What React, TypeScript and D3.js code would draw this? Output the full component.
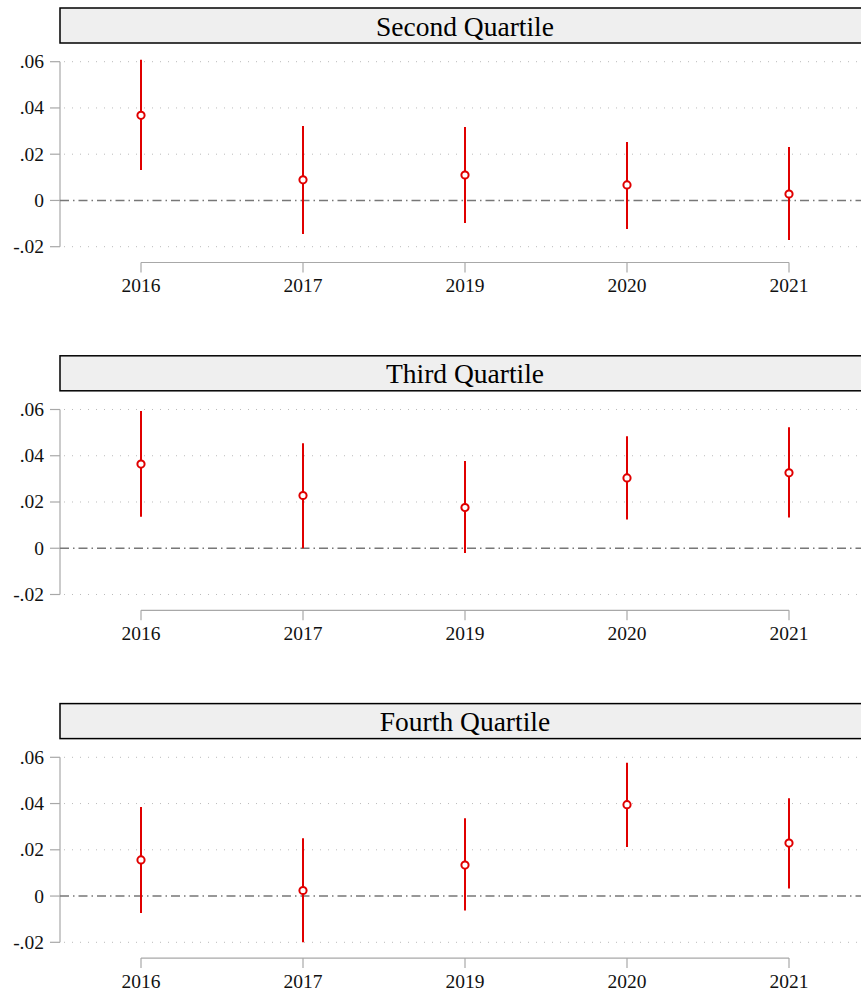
import React from 'react'
import * as d3 from 'd3'

const years = ['2016', '2017', '2019', '2020', '2021']
const panels = ['Second Quartile', 'Third Quartile', 'Fourth Quartile']

// point estimates and 95% CI bounds, one array per panel
const est = [
  [0.0368, 0.0089, 0.011, 0.0067, 0.0028],
  [0.0364, 0.0228, 0.0176, 0.0304, 0.0326],
  [0.0156, 0.0024, 0.0134, 0.0395, 0.0229],
]
const lower = [
  [0.0132, -0.0145, -0.0097, -0.0123, -0.0171],
  [0.0136, 0.0, -0.0021, 0.0124, 0.0133],
  [-0.0073, -0.02, -0.0063, 0.0212, 0.0033],
]
const upper = [
  [0.0608, 0.0322, 0.0318, 0.0253, 0.0231],
  [0.0593, 0.0454, 0.0377, 0.0484, 0.0523],
  [0.0385, 0.025, 0.0336, 0.0576, 0.0423],
]
const yTicks = [-0.02, 0, 0.02, 0.04, 0.06]

const W = 861
const H = 996
const left = 60
const right = 870
const panelStep = 347.8
const font = '"Liberation Serif", "Times New Roman", serif'
const axisColor = '#a8a8a8'
const red = '#e00000'

const fmt = (v: number) => {
  if (v === 0) return '0'
  const s = v.toFixed(2)
  return s.replace('0.', '.')
}

function Panel({ idx }: { idx: number }) {
  const x = d3.scaleBand<string>().domain(years).range([left, right]).padding(0)
  const cx = (d: string) => (x(d) as number) + x.bandwidth() / 2
  const y = d3.scaleLinear().domain([-0.02, 0.06]).range([246.7, 61.7])
  const xAxisY = 262.5
  return (
    <g transform={`translate(0,${idx * panelStep})`}>
      <rect x={left} y={8} width={right - left} height={35} fill="#efefef" stroke="#000" strokeWidth={1.5} />
      <text x={(left + right) / 2} y={35.5} textAnchor="middle" fontFamily={font} fontSize={27.5} fill="#000">
        {panels[idx]}
      </text>
      {yTicks.map((t) => (
        <g key={t}>
          {t !== 0 && (
            <line x1={left + 4} x2={W} y1={y(t)} y2={y(t)} stroke="#bbb" strokeWidth={1} strokeDasharray="1 7" />
          )}
          <line x1={left - 10} x2={left} y1={y(t)} y2={y(t)} stroke={axisColor} strokeWidth={1.2} />
          <text x={left - 16} y={y(t) + 6.5} textAnchor="end" fontFamily={font} fontSize={19.5} fill="#111">
            {fmt(t)}
          </text>
        </g>
      ))}
      <line x1={left} x2={left} y1={y(0.06)} y2={y(-0.02)} stroke={axisColor} strokeWidth={1.2} />
      <line x1={left} x2={W} y1={y(0)} y2={y(0)} stroke="#777" strokeWidth={1.5} strokeDasharray="9 4 1.5 4" />
      <line x1={cx(years[0])} x2={cx(years[years.length - 1])} y1={xAxisY} y2={xAxisY} stroke={axisColor} strokeWidth={1.2} />
      {years.map((yr) => (
        <g key={yr}>
          <line x1={cx(yr)} x2={cx(yr)} y1={xAxisY} y2={xAxisY + 10} stroke={axisColor} strokeWidth={1.2} />
          <text x={cx(yr)} y={xAxisY + 29.5} textAnchor="middle" fontFamily={font} fontSize={19.5} fill="#111">
            {yr}
          </text>
        </g>
      ))}
      {years.map((yr, i) => (
        <g key={'m' + yr}>
          <line x1={cx(yr)} x2={cx(yr)} y1={y(lower[idx][i])} y2={y(upper[idx][i])} stroke={red} strokeWidth={2} />
          <circle cx={cx(yr)} cy={y(est[idx][i])} r={3.6} fill="#fff" stroke={red} strokeWidth={2} />
        </g>
      ))}
    </g>
  )
}

export default function App() {
  return (
    <svg width={W} height={H} style={{ position: 'absolute', left: 0, top: 0, background: '#fff' }}>
      {panels.map((p, i) => (
        <Panel key={p} idx={i} />
      ))}
    </svg>
  )
}
